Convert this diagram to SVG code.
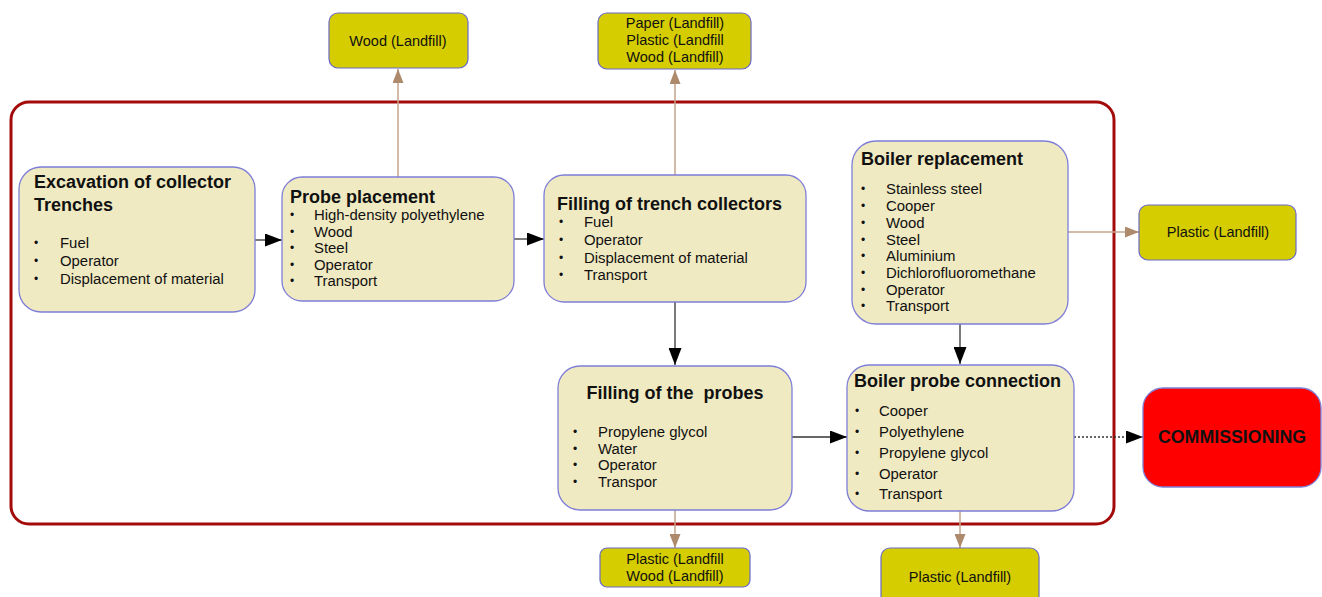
<svg xmlns="http://www.w3.org/2000/svg" width="1322" height="597" viewBox="0 0 1322 597">
<style>
text{font-family:"Liberation Sans",Arial,sans-serif;fill:#111}
.box{fill:#f0eac2;stroke:#7e7ed8;stroke-width:1.3}
.out{fill:#d5cd00;stroke:#6a6ac8;stroke-width:1.2}
.ttl{font-size:18px;font-weight:bold}
.itm{font-size:14.9px}
.bul{font-size:12px}
.lbl{font-size:14.5px;text-anchor:middle}
.flow{stroke:#333;stroke-width:1.3;fill:none}
.waste{stroke:#c4a58c;stroke-width:1.5;fill:none}
</style>
<defs>
<marker id="ab" viewBox="0 0 17 13" refX="17" refY="6.5" markerWidth="17" markerHeight="13" markerUnits="userSpaceOnUse" orient="auto"><path d="M0,0L17,6.5L0,13z" fill="#000"/></marker>
<marker id="aw" viewBox="0 0 14 11" refX="14" refY="5.5" markerWidth="14" markerHeight="11" markerUnits="userSpaceOnUse" orient="auto"><path d="M0,0L14,5.5L0,11z" fill="#ae8a6c"/></marker>
</defs>
<rect id="scope" x="11" y="102" width="1103" height="422" rx="18" fill="none" stroke="#a30a0a" stroke-width="3"/>
<g id="connectors">
<line class="flow" x1="255" y1="240" x2="282" y2="240" marker-end="url(#ab)"/>
<line class="flow" x1="514" y1="239" x2="544" y2="239" marker-end="url(#ab)"/>
<line class="flow" x1="675" y1="302" x2="675" y2="365" marker-end="url(#ab)"/>
<line class="flow" x1="960" y1="324" x2="960" y2="364" marker-end="url(#ab)"/>
<line class="flow" x1="792" y1="437" x2="847" y2="437" marker-end="url(#ab)"/>
<line class="flow" x1="1074" y1="437" x2="1143" y2="437" stroke-dasharray="2,2" marker-end="url(#ab)"/>
<line class="waste" x1="398" y1="177" x2="398" y2="69" marker-end="url(#aw)"/>
<line class="waste" x1="675" y1="175" x2="675" y2="70" marker-end="url(#aw)"/>
<line class="waste" x1="1068" y1="232" x2="1139" y2="232" marker-end="url(#aw)"/>
<line class="waste" x1="675" y1="510" x2="675" y2="548" marker-end="url(#aw)"/>
<line class="waste" x1="960" y1="511" x2="960" y2="548" marker-end="url(#aw)"/>
</g>
<g id="excavation">
<rect class="box" x="19" y="167" width="236" height="145" rx="22"/>
<text class="ttl" x="34" y="188">Excavation of collector</text>
<text class="ttl" x="34" y="211">Trenches</text>
<text class="bul" x="34" y="247">•</text><text class="itm" x="60" y="248">Fuel</text>
<text class="bul" x="34" y="265">•</text><text class="itm" x="60" y="266">Operator</text>
<text class="bul" x="34" y="283">•</text><text class="itm" x="60" y="284">Displacement of material</text>
</g>
<g id="probe-placement">
<rect class="box" x="282" y="177" width="232" height="124" rx="20"/>
<text class="ttl" x="290" y="203">Probe placement</text>
<text class="bul" x="290" y="219">•</text><text class="itm" x="314" y="220">High-density polyethylene</text>
<text class="bul" x="290" y="236">•</text><text class="itm" x="314" y="237">Wood</text>
<text class="bul" x="290" y="252">•</text><text class="itm" x="314" y="253">Steel</text>
<text class="bul" x="290" y="269">•</text><text class="itm" x="314" y="270">Operator</text>
<text class="bul" x="290" y="285">•</text><text class="itm" x="314" y="286">Transport</text>
</g>
<g id="filling-trench">
<rect class="box" x="544" y="175" width="262" height="127" rx="20"/>
<text class="ttl" x="557" y="210">Filling of trench collectors</text>
<text class="bul" x="559" y="226">•</text><text class="itm" x="584" y="227">Fuel</text>
<text class="bul" x="559" y="244">•</text><text class="itm" x="584" y="245">Operator</text>
<text class="bul" x="559" y="262">•</text><text class="itm" x="584" y="263">Displacement of material</text>
<text class="bul" x="559" y="279">•</text><text class="itm" x="584" y="280">Transport</text>
</g>
<g id="boiler-replacement">
<rect class="box" x="852" y="141" width="216" height="183" rx="24"/>
<text class="ttl" x="861" y="165">Boiler replacement</text>
<text class="bul" x="861" y="193">•</text><text class="itm" x="886" y="194">Stainless steel</text>
<text class="bul" x="861" y="210">•</text><text class="itm" x="886" y="211">Cooper</text>
<text class="bul" x="861" y="227">•</text><text class="itm" x="886" y="228">Wood</text>
<text class="bul" x="861" y="244">•</text><text class="itm" x="886" y="245">Steel</text>
<text class="bul" x="861" y="260">•</text><text class="itm" x="886" y="261">Aluminium</text>
<text class="bul" x="861" y="277">•</text><text class="itm" x="886" y="278">Dichlorofluoromethane</text>
<text class="bul" x="861" y="294">•</text><text class="itm" x="886" y="295">Operator</text>
<text class="bul" x="861" y="310">•</text><text class="itm" x="886" y="311">Transport</text>
</g>
<g id="filling-probes">
<rect class="box" x="558" y="366" width="234" height="144" rx="22"/>
<text class="ttl" x="675" y="399" text-anchor="middle" xml:space="preserve">Filling of the  probes</text>
<text class="bul" x="573" y="436">•</text><text class="itm" x="598" y="437">Propylene glycol</text>
<text class="bul" x="573" y="453">•</text><text class="itm" x="598" y="454">Water</text>
<text class="bul" x="573" y="469">•</text><text class="itm" x="598" y="470">Operator</text>
<text class="bul" x="573" y="486">•</text><text class="itm" x="598" y="487">Transpor</text>
</g>
<g id="boiler-probe-connection">
<rect class="box" x="847" y="365" width="227" height="146" rx="22"/>
<text class="ttl" x="854" y="387">Boiler probe connection</text>
<text class="bul" x="855" y="415">•</text><text class="itm" x="879" y="416">Cooper</text>
<text class="bul" x="855" y="436">•</text><text class="itm" x="879" y="437">Polyethylene</text>
<text class="bul" x="855" y="457">•</text><text class="itm" x="879" y="458">Propylene glycol</text>
<text class="bul" x="855" y="478">•</text><text class="itm" x="879" y="479">Operator</text>
<text class="bul" x="855" y="498">•</text><text class="itm" x="879" y="499">Transport</text>
</g>
<g id="commissioning">
<rect x="1143" y="388" width="178" height="99" rx="20" fill="#ff0000" stroke="#7e7ed8" stroke-width="1.3"/>
<text x="1232" y="443" text-anchor="middle" font-size="17.8" font-weight="bold">COMMISSIONING</text>
</g>
<g id="waste-wood-top">
<rect class="out" x="329" y="13" width="139" height="55" rx="9"/>
<text class="lbl" x="398" y="46">Wood (Landfill)</text>
</g>
<g id="waste-paper-plastic-wood">
<rect class="out" x="598" y="13" width="153" height="56" rx="9"/>
<text class="lbl" x="675" y="28">Paper (Landfill)</text>
<text class="lbl" x="675" y="45">Plastic (Landfill</text>
<text class="lbl" x="675" y="62">Wood (Landfill)</text>
</g>
<g id="waste-plastic-right">
<rect class="out" x="1139" y="205" width="157" height="55" rx="9"/>
<text class="lbl" x="1218" y="237">Plastic (Landfill)</text>
</g>
<g id="waste-plastic-wood-bottom">
<rect class="out" x="600" y="548" width="150" height="39" rx="7"/>
<text class="lbl" x="675" y="564">Plastic (Landfill</text>
<text class="lbl" x="675" y="581">Wood (Landfill)</text>
</g>
<g id="waste-plastic-bottom">
<rect class="out" x="881" y="548" width="158" height="60" rx="9"/>
<text class="lbl" x="960" y="582">Plastic (Landfill)</text>
</g>
</svg>
